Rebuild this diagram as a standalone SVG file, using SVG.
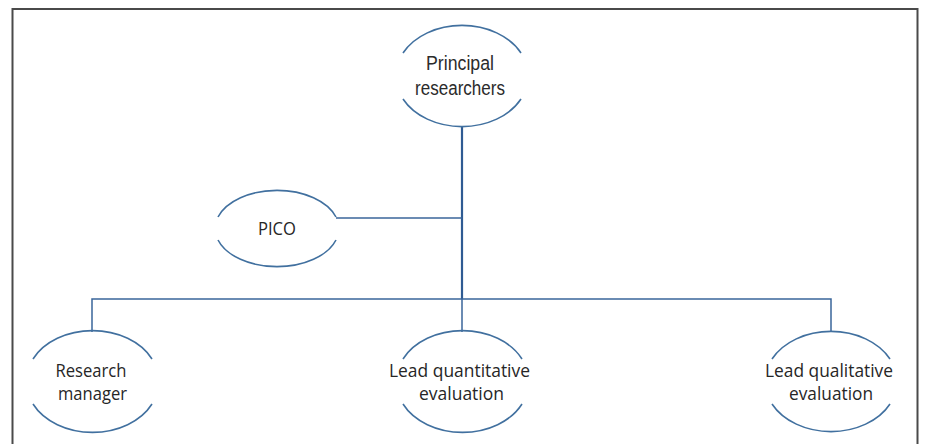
<svg xmlns="http://www.w3.org/2000/svg" width="925" height="444" viewBox="0 0 925 444">
<style>
.arc{fill:none;stroke:#41709f;stroke-width:1.6}
.frame{fill:none;stroke:#4a4a4a;stroke-width:2}
.conn{fill:none;stroke:#3a659a;stroke-width:1.5}
.trunk{fill:none;stroke:#2f5b93;stroke-width:2.2}
.t1{font-family:"Liberation Sans",Arial,sans-serif;font-size:20px;fill:#2b2b2b;text-anchor:middle}
.t2{font-family:"Open Sans","Liberation Sans",sans-serif;font-size:18.5px;fill:#262626;text-anchor:middle}
</style>
<rect width="925" height="444" fill="#ffffff"/>
<path class="frame" d="M12.5 444 V9 H917.5 V444"/>
<g id="connectors">
<path class="trunk" d="M462 126 V299"/>
<path class="conn" d="M336 218 H462"/>
<path class="conn" d="M92 332 V299 H831 V332"/>
<path class="conn" d="M462 299 V332"/>
</g>
<g id="principal">
<path class="arc" d="M403 53 A66 50 0 0 1 521 53"/>
<path class="arc" d="M403 99 A66 50 0 0 0 521 99"/>
<text class="t1" x="460" y="69.5" textLength="68" lengthAdjust="spacingAndGlyphs">Principal</text>
<text class="t1" x="460" y="94.5" textLength="90" lengthAdjust="spacingAndGlyphs">researchers</text>
</g>
<g id="pico">
<path class="arc" d="M218 217 A62 38.5 0 0 1 336 217"/>
<path class="arc" d="M218 240 A62 38.5 0 0 0 336 240"/>
<text class="t2" x="277" y="235" textLength="38" lengthAdjust="spacingAndGlyphs">PICO</text>
</g>
<g id="research-manager">
<path class="arc" d="M33 359 A66 50 0 0 1 152 359"/>
<path class="arc" d="M33 404 A66 50 0 0 0 152 404"/>
<text class="t2" x="91" y="376.5" textLength="71" lengthAdjust="spacingAndGlyphs">Research</text>
<text class="t2" x="92.5" y="399.5" textLength="69" lengthAdjust="spacingAndGlyphs">manager</text>
</g>
<g id="lead-quantitative">
<path class="arc" d="M403 359 A66 50 0 0 1 522 359"/>
<path class="arc" d="M403 404 A66 50 0 0 0 522 404"/>
<text class="t2" x="459.5" y="376.5" textLength="141" lengthAdjust="spacingAndGlyphs">Lead quantitative</text>
<text class="t2" x="461.5" y="399.5" textLength="85" lengthAdjust="spacingAndGlyphs">evaluation</text>
</g>
<g id="lead-qualitative">
<path class="arc" d="M772 359 A66 50 0 0 1 890 359"/>
<path class="arc" d="M772 404 A66 50 0 0 0 890 404"/>
<text class="t2" x="829" y="376.5" textLength="128" lengthAdjust="spacingAndGlyphs">Lead qualitative</text>
<text class="t2" x="831" y="399.5" textLength="84" lengthAdjust="spacingAndGlyphs">evaluation</text>
</g>
</svg>
